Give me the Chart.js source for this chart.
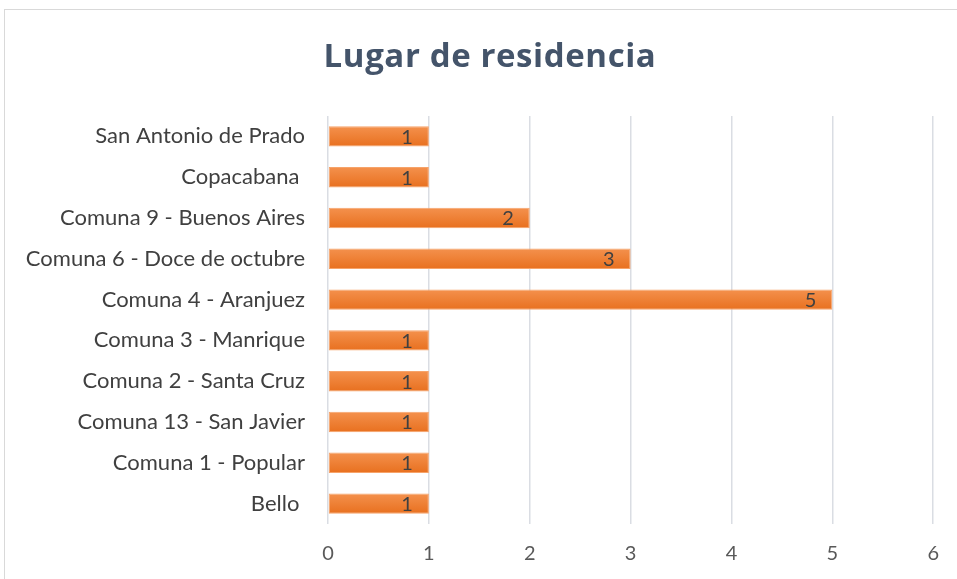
<!DOCTYPE html>
<html>
<head>
<meta charset="utf-8">
<script src="https://cdn.jsdelivr.net/npm/chart.js@4"></script>
<style>
  body { margin: 0; background: #fff; }
</style>
</head>
<body>
<canvas id="grafica" width="957" height="579"></canvas>
<script>
const lugares = [
    'San Antonio de Prado',
    'Copacabana ',
    'Comuna 9 - Buenos Aires',
    'Comuna 6 - Doce de octubre',
    'Comuna 4 - Aranjuez',
    'Comuna 3 - Manrique',
    'Comuna 2 - Santa Cruz',
    'Comuna 13 - San Javier',
    'Comuna 1 - Popular',
    'Bello '
];
const personas = [1, 1, 2, 3, 5, 1, 1, 1, 1, 1];
const ticksX = [0, 1, 2, 3, 4, 5, 6];
const titulo = 'Lugar de residencia';

const fuente = "Lato, 'Open Sans', sans-serif";

// marco gris claro y titulo centrado en toda la imagen
const marco = {
    id: 'marco',
    beforeDraw(chart) {
        const ctx = chart.ctx;
        ctx.save();
        ctx.strokeStyle = '#D9D9D9';
        ctx.lineWidth = 1;
        ctx.strokeRect(4.5, 9.5, 1200, 1200);
        ctx.font = "bold 33px 'Open Sans', sans-serif";
        ctx.letterSpacing = '0.6px';
        ctx.fillStyle = '#44546A';
        ctx.textAlign = 'center';
        ctx.textBaseline = 'middle';
        ctx.fillText(titulo, 490, 58);
        ctx.restore();
    }
};

// etiquetas de datos dentro del final de la barra
const etiquetas = {
    id: 'etiquetas',
    afterDatasetsDraw(chart) {
        const ctx = chart.ctx;
        const meta = chart.getDatasetMeta(0);
        ctx.save();
        ctx.font = '20px ' + fuente;
        ctx.fillStyle = '#404040';
        ctx.textAlign = 'right';
        ctx.textBaseline = 'middle';
        meta.data.forEach((bar, i) => {
            ctx.fillText(personas[i], bar.x - 16, bar.y + 1);
        });
        ctx.restore();
    }
};

const graph = document.querySelector('#grafica');

const data = {
    labels: lugares,
    datasets: [{
        label: titulo,
        data: personas,
        backgroundColor: (c) => {
            const area = c.chart.chartArea;
            const ys = c.chart.scales.y;
            if (!area || !ys || c.dataIndex === undefined) return '#ED7D31';
            const yc = ys.getPixelForValue(c.dataIndex);
            const h = (area.bottom - area.top) / lugares.length * 0.5;
            if (!Number.isFinite(yc) || !Number.isFinite(h)) return '#ED7D31';
            const g = c.chart.ctx.createLinearGradient(0, yc - h / 2, 0, yc + h / 2);
            g.addColorStop(0, '#F4914D');
            g.addColorStop(1, '#E8701F');
            return g;
        },
        borderColor: '#F6A36A',
        borderWidth: 1,
        borderSkipped: false,
        barPercentage: 0.5,
        categoryPercentage: 1
    }]
};

const config = {
    type: 'bar',
    data: data,
    options: {
        indexAxis: 'y',
        responsive: false,
        animation: false,
        layout: { padding: { left: 0, right: 23, top: 116, bottom: 0 } },
        plugins: {
            legend: { display: false },
            tooltip: { enabled: false },
            title: { display: false }
        },
        scales: {
            x: {
                min: 0,
                max: 6,
                afterBuildTicks: (s) => { s.ticks = ticksX.map(v => ({ value: v })); },
                grid: { color: '#DADDE3', lineWidth: 1.5, drawTicks: false },
                border: { display: false },
                ticks: {
                    color: '#595959',
                    font: { family: fuente, size: 20 },
                    padding: 18
                },
                afterFit: (s) => { s.height = 55; }
            },
            y: {
                grid: { display: false },
                border: { display: false },
                ticks: {
                    color: '#404040',
                    font: { family: fuente, size: 22 },
                    padding: 15
                },
                afterFit: (s) => { s.width = 328; }
            }
        }
    },
    plugins: [marco, etiquetas]
};

new Chart(graph, config);
</script>
</body>
</html>
